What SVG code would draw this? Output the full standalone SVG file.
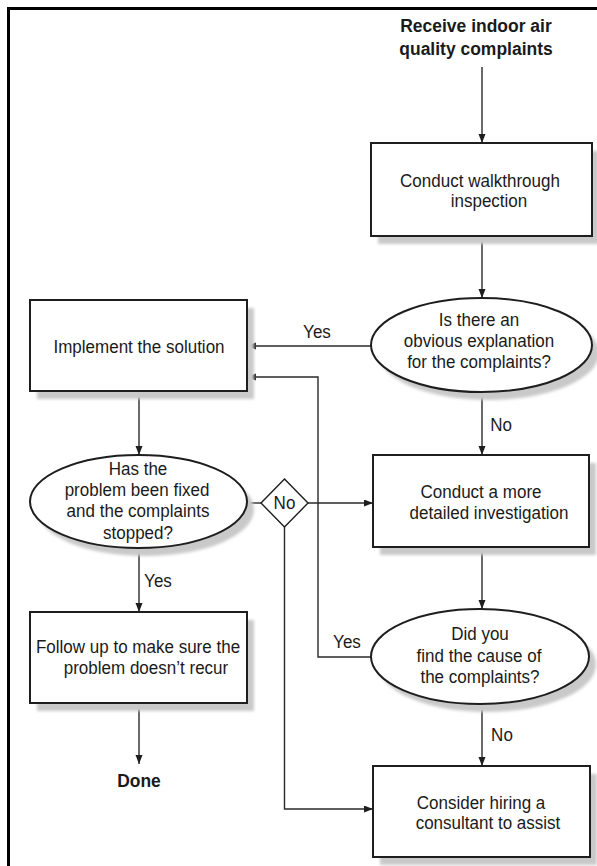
<svg xmlns="http://www.w3.org/2000/svg" width="597" height="866" viewBox="0 0 597 866">
  <style>
    .shape { fill: #ffffff; stroke: #1e1e1e; stroke-width: 2; }
    .shadow { fill: #c9c9c9; filter: url(#soft); }
    .lbl { font-family: "Liberation Sans", Arial, sans-serif; font-size: 18.5px; fill: #1a1a1a; text-anchor: middle;
           transform-box: fill-box; transform-origin: center; transform: scaleX(0.92); }
    .bold { font-weight: bold; font-size: 19px; }
    .wire { fill: none; stroke: #2a2a2a; stroke-width: 1.4; }
    .arrow { marker-end: url(#head); }
  </style>
  <defs>
    <filter id="soft" x="-10%" y="-10%" width="120%" height="130%">
      <feGaussianBlur stdDeviation="1.5"/>
    </filter>
    <marker id="head" markerUnits="userSpaceOnUse" markerWidth="10" markerHeight="8" refX="9" refY="3.5" orient="auto">
      <path d="M0,0 L9,3.5 L0,7 z" fill="#1e1e1e"/>
    </marker>
  </defs>

  <rect width="597" height="866" fill="#ffffff"/>
  <!-- page frame: only the top and left edges fall inside the sheet -->
  <path d="M598,8.5 H8.5 V867" fill="none" stroke="#000000" stroke-width="3"/>

  <!-- connectors -->
  <g id="connectors">
    <path class="wire arrow" d="M482,67 V143"/>
    <path class="wire arrow" d="M482,236 V298"/>
    <path class="wire arrow" d="M371,346 H247"/>
    <path class="wire arrow" d="M482,392 V455"/>
    <path class="wire arrow" d="M139,391 V455"/>
    <path class="wire" d="M247,503 H261"/>
    <path class="wire arrow" d="M308,503 H373"/>
    <path class="wire arrow" d="M284.5,527 V809 H373"/>
    <path class="wire arrow" d="M371,657 H318 V377 H247"/>
    <path class="wire arrow" d="M482,547 V609"/>
    <path class="wire arrow" d="M482,704 V766"/>
    <path class="wire arrow" d="M139,548 V612"/>
    <path class="wire arrow" d="M139,703 V764"/>
    <text class="lbl" x="317" y="338">Yes</text>
    <text class="lbl" x="501" y="431">No</text>
    <text class="lbl" x="158" y="587">Yes</text>
    <text class="lbl" x="347" y="648">Yes</text>
    <text class="lbl" x="502" y="741">No</text>
  </g>

  <g id="start">
    <text class="lbl bold" x="476" y="32">Receive indoor air</text>
    <text class="lbl bold" x="476" y="55">quality complaints</text>
  </g>

  <g id="walkthrough">
    <rect class="shadow" x="378" y="151" width="221" height="93"/>
    <rect class="shape" x="371" y="143" width="221" height="93"/>
    <text class="lbl" x="480" y="187">Conduct walkthrough</text>
    <text class="lbl" x="489" y="207">inspection</text>
  </g>

  <g id="obvious">
    <ellipse class="shadow" cx="488.5" cy="353" rx="110.5" ry="47"/>
    <ellipse class="shape" cx="481.5" cy="345" rx="110.5" ry="47"/>
    <text class="lbl" x="479" y="326">Is there an</text>
    <text class="lbl" x="479" y="347">obvious explanation</text>
    <text class="lbl" x="479" y="368">for the complaints?</text>
  </g>

  <g id="implement">
    <rect class="shadow" x="37" y="308" width="217" height="91"/>
    <rect class="shape" x="30" y="300" width="217" height="91"/>
    <text class="lbl" x="139" y="353">Implement the solution</text>
  </g>

  <g id="detailed">
    <rect class="shadow" x="380" y="463" width="216" height="92"/>
    <rect class="shape" x="373" y="455" width="216" height="92"/>
    <text class="lbl" x="481" y="498">Conduct a more</text>
    <text class="lbl" x="489" y="519">detailed investigation</text>
  </g>

  <g id="fixed">
    <ellipse class="shadow" cx="145.5" cy="509.5" rx="108.5" ry="46.5"/>
    <ellipse class="shape" cx="138.5" cy="501.5" rx="108.5" ry="46.5"/>
    <text class="lbl" x="138" y="475">Has the</text>
    <text class="lbl" x="137" y="496">problem been fixed</text>
    <text class="lbl" x="138" y="517">and the complaints</text>
    <text class="lbl" x="138" y="539">stopped?</text>
  </g>

  <g id="no-branch">
    <polygon class="shape" style="stroke-width:1.4" points="284.5,479 308,503 284.5,527 261,503"/>
    <text class="lbl" x="284.5" y="509">No</text>
  </g>

  <g id="cause">
    <ellipse class="shadow" cx="487" cy="664.5" rx="109" ry="47.5"/>
    <ellipse class="shape" cx="480" cy="656.5" rx="109" ry="47.5"/>
    <text class="lbl" x="480" y="640">Did you</text>
    <text class="lbl" x="479" y="662">find the cause of</text>
    <text class="lbl" x="480" y="683">the complaints?</text>
  </g>

  <g id="follow-up">
    <rect class="shadow" x="37" y="620" width="217" height="91"/>
    <rect class="shape" x="30" y="612" width="217" height="91"/>
    <text class="lbl" x="138" y="653">Follow up to make sure the</text>
    <text class="lbl" x="146" y="674">problem doesn’t recur</text>
  </g>

  <g id="consultant">
    <rect class="shadow" x="380" y="774" width="217" height="91"/>
    <rect class="shape" x="373" y="766" width="217" height="91"/>
    <text class="lbl" x="481" y="809">Consider hiring a</text>
    <text class="lbl" x="488" y="829">consultant to assist</text>
  </g>

  <g id="done">
    <text class="lbl bold" x="139" y="787">Done</text>
  </g>
</svg>
